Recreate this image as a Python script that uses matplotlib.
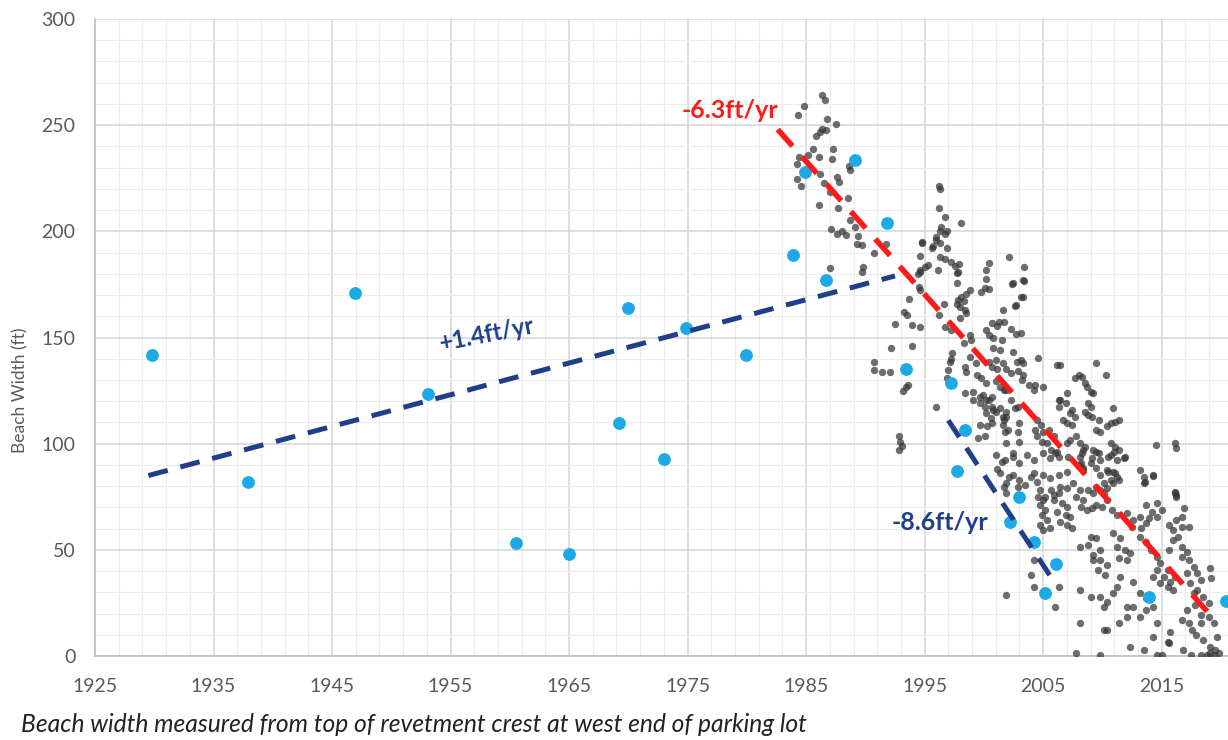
import matplotlib
matplotlib.use('Agg')
import matplotlib.pyplot as plt
from matplotlib.ticker import MultipleLocator

plt.rcParams['font.family'] = ['Lato', 'DejaVu Sans']

# aerial / survey measurements (blue)
blue_year = [1929.8, 1937.9, 1946.9, 1953.1, 1960.5, 1965.0, 1969.2, 1970.0,
             1973.0, 1974.9, 1979.9, 1983.9, 1984.9, 1986.7, 1989.1, 1991.8,
             1993.4, 1997.2, 1997.7, 1998.4, 2002.2, 2003.0, 2004.2, 2005.2,
             2006.1, 2013.9, 2020.4]
blue_width = [141.8, 82, 171, 123.4, 53.1, 48.0, 109.9, 163.8,
              92.6, 154.4, 141.8, 189, 228, 177, 233.6, 204,
              135, 128.6, 87, 106.5, 63, 75, 53.7, 29.7,
              43.3, 27.8, 26]

# profile measurements (grey dots): (year, width ft)
profile_pts = [
    (1986.3, 264), (1986.6, 262), (1984.8, 259), (1984.3, 255), (1986.8, 253), (1987.5, 250.6),
    (1986.3, 248), (1986.7, 247.8), (1986.2, 247), (1985.8, 245), (1987.3, 239), (1985.6, 238.8),
    (1985.2, 236), (1986.1, 235), (1984.4, 235), (1984.2, 231.6), (1987.2, 234), (1988.6, 230.8),
    (1988.7, 229), (1984.2, 224.5), (1984.6, 221.4), (1986.2, 227), (1986.5, 222.7), (1987.6, 225.8),
    (1987.8, 223.4), (1987.0, 218.7), (1988.5, 215.6), (1986.1, 212.4), (1987.7, 210.9), (1988.7, 205.4),
    (1989.1, 202.2), (1987.1, 201), (1987.6, 198.8), (1988.4, 198.2), (1988.0, 200), (1989.4, 197.8),
    (1989.3, 194), (1989.7, 193.6), (1991.7, 194), (1990.7, 190), (1987.0, 182.6), (1989.8, 183.4),
    (1989.7, 181), (1994.6, 181), (1995.0, 183.4), (1995.3, 184), (1996.2, 221.4), (1996.3, 219.8),
    (1996.2, 210.9), (1996.7, 206.6), (1998.1, 204), (1996.4, 202), (1996.3, 200), (1996.7, 198.8),
    (1996.0, 197.5), (1994.8, 194.4), (1995.7, 193.3), (1996.3, 194.7), (1994.6, 188.6), (1996.3, 188),
    (1996.7, 186.9), (1997.2, 185.7), (1997.9, 184.6), (1997.6, 183.5), (1997.8, 181), (2000.4, 185.3),
    (2000.2, 181.8), (2002.1, 188),
    (1996.9, 200), (1996.0, 196), (1994.8, 195), (1995.6, 192), (1996.9, 192), (1994.6, 181.8),
    (1994.4, 180), (1996.1, 182), (1997.7, 180.3), (1997.7, 175.6), (2000.2, 177.4), (2000.1, 173.2),
    (2002.4, 175.2), (2003.3, 177), (1994.5, 174), (1994.6, 172.4), (1998.8, 172.4), (1998.5, 170.5),
    (1998.1, 169.2), (1997.8, 167.7), (1997.7, 166), (1998.3, 167), (1999.8, 171.3), (2000.4, 172.7),
    (2003.1, 169), (1993.7, 168), (1993.3, 162), (1993.5, 160.6), (1996.6, 166), (1998.0, 164.5),
    (1998.4, 163), (1998.5, 161.4), (1998.0, 159), (2002.6, 164.9), (2001.6, 163), (2001.3, 157.5),
    (2001.7, 157.5), (1996.2, 160.6), (2000.7, 156.7), (2001.1, 155.4), (2000.2, 153.6), (2000.4, 151.2),
    (1992.5, 156.4), (1993.9, 155.9), (1994.6, 154.8), (2003.1, 152.3), (2002.7, 151.5), (2002.3, 153.9),
    (1997.2, 153.6), (1996.7, 155.1), (1998.3, 147.4), (1998.8, 151.2), (1998.9, 148.8), (2000.8, 149.6),
    (2001.5, 148.8), (2000.8, 145), (2001.4, 144), (2002.5, 143), (2003.1, 139.4), (2002.8, 138.6),
    (2003.3, 137.9), (2004.6, 140.2), (1992.2, 145), (1993.9, 146), (1997.3, 142.9), (1997.2, 139.8),
    (1997.1, 138.7), (1998.8, 140.7), (1999.3, 138.2), (1998.4, 136.3), (1998.5, 133.9), (2001.0, 139.4),
    (2000.4, 138.6), (2000.7, 136), (2001.1, 135), (1990.7, 138.7), (1990.7, 134.7), (1991.4, 133.6),
    (1992.1, 133.9), (2001.6, 137.9), (2001.9, 135), (2002.3, 133.2), (2002.9, 134.2), (2003.3, 132.4),
    (1997.0, 134.7), (1996.9, 130.8), (1999.4, 132.4), (1999.8, 130.8), (2000.2, 128.4), (1993.4, 126.9),
    (1993.2, 125), (1993.6, 127.7), (2001.0, 129.3), (2001.4, 126.9), (2001.9, 125.3), (2003.2, 130),
    (2003.8, 127.7), (2004.2, 125.3), (2005.0, 126.6), (2004.3, 127.7), (1998.4, 123.7), (1999.1, 124.5),
    (1999.7, 122.1), (2000.2, 120.6), (2000.7, 122.1), (1996.0, 117.1), (2000.1, 117.4), (2000.8, 115.9),
    (2001.4, 116.7), (2001.9, 115.1), (2002.6, 116.7), (2001.6, 112.7), (2006.2, 137), (2006.3, 120.6),
    (1992.8, 103.4), (1992.9, 101), (1993.1, 99), (1992.8, 97), (1999.1, 120.6), (1999.7, 119),
    (1999.9, 122.9), (2000.4, 120.6), (2000.7, 117.4), (2001.0, 115.1), (2000.2, 114.3), (2000.6, 112),
    (2001.7, 111.2), (2001.6, 108.8), (2002.0, 106.5), (1999.7, 108.8), (2000.3, 108.1), (2000.7, 109.6),
    (1999.5, 102.6), (2000.1, 103.4), (2001.0, 94.6), (2001.5, 91.5), (2001.1, 88.3), (2001.7, 79.7),
    (2001.9, 28.7),
    (2003.4, 183.4), (2002.5, 175.6), (2003.4, 176.8), (2003.3, 169), (2002.7, 165.3), (2006.4, 137),
    (2009.5, 137.9), (2010.3, 132.4), (2008.0, 132.4), (2008.3, 131.6), (2007.7, 130.8), (2008.5, 128.7),
    (2008.7, 126.9), (2009.0, 124.5), (2009.2, 123.7), (2007.0, 123.7), (2006.4, 120.6), (2006.9, 119),
    (2006.3, 117.4), (2007.3, 114.6), (2007.4, 115.9), (2007.7, 112.7), (2006.7, 111.2), (2007.0, 109.6),
    (2007.4, 108.8), (2008.8, 119), (2009.0, 117.4), (2008.5, 115.1), (2008.8, 113.5), (2009.1, 112.7),
    (2009.7, 111.2), (2009.5, 106.5), (2009.8, 105.7), (2010.9, 116.7), (2010.7, 109.6), (2011.1, 110.4),
    (2011.4, 111.2), (2010.4, 108.1), (2004.5, 111.2), (2004.8, 108.8), (2004.3, 106.5), (2005.0, 105.7),
    (2005.5, 106.5), (2004.5, 103.4), (2004.9, 101), (2005.3, 100.2), (2005.9, 103.4), (2005.7, 97),
    (2006.0, 95.5), (2006.3, 93.9), (2005.6, 93.1), (2007.0, 100.2), (2007.3, 101.7), (2007.8, 103.4),
    (2008.1, 100.2), (2008.5, 98.6), (2008.4, 97), (2008.1, 93.9), (2008.2, 90.7), (2008.4, 88.4),
    (2009.2, 97), (2009.1, 93.1), (2009.8, 92.3), (2009.0, 90.7), (2009.7, 95.5), (2010.7, 100.2),
    (2011.1, 98.6), (2011.4, 97), (2011.0, 96.2), (2010.5, 93.9), (2011.8, 93.1), (2014.5, 99.4),
    (2016.1, 100.2), (2016.2, 97.8), (2010.4, 87.6), (2010.9, 86.8), (2011.2, 84.5), (2010.7, 82.9),
    (2010.1, 81.4), (2010.9, 81.4), (2009.5, 79.7), (2009.8, 78.2), (2010.4, 79), (2013.2, 87.6),
    (2013.5, 84.5), (2013.6, 82.1), (2014.3, 84.8), (2016.1, 77.4), (2016.2, 75.8), (2006.4, 79.7),
    (2007.0, 79), (2007.5, 81.4), (2008.1, 78.2), (2008.8, 78.2), (2009.2, 76.6), (2004.7, 78.2),
    (2005.2, 75), (2005.9, 75.8), (2003.1, 75), (2001.9, 76.6), (2001.7, 125.3), (2002.3, 120.6),
    (2002.9, 117.4), (2001.9, 112.7), (2003.0, 109.6), (2001.8, 105.7), (2002.9, 105.7), (2001.9, 100.2),
    (2003.0, 101), (2002.5, 95.5), (2001.8, 92.3), (2003.0, 90.7), (2002.1, 84.5), (2003.0, 82.9),
    (2002.5, 93.9), (2003.6, 94.6), (2004.2, 92.3), (2005.0, 95.5), (2006.2, 96.2), (2007.1, 93.9),
    (2008.3, 95.5), (2009.5, 96.2), (2010.7, 94.6), (2011.2, 92.3), (2011.9, 93.9), (2008.1, 90),
    (2008.4, 87.6), (2009.5, 88.4), (2009.8, 85.3), (2010.5, 86.8), (2011.1, 86), (2011.4, 82.9),
    (2001.4, 86), (2002.5, 85.3), (2004.0, 84.5), (2004.2, 86), (2005.0, 85.3), (2001.9, 81.4),
    (2002.9, 79.7), (2003.5, 80.5), (2004.5, 82.1), (2005.6, 83.7), (2006.3, 85.3), (2007.0, 86.8),
    (2004.6, 75), (2005.0, 73.5), (2004.7, 71.1), (2005.2, 68.8), (2004.9, 66.4), (2005.3, 64),
    (2004.7, 61.7), (2005.0, 59.3), (2005.6, 60.1), (2005.7, 78.2), (2006.3, 76.6), (2005.9, 73.5),
    (2006.6, 71.9), (2007.0, 70.3), (2006.2, 68), (2006.9, 66.4), (2007.3, 65.6), (2006.4, 63.3),
    (2007.0, 61.7), (2007.4, 60.1), (2007.8, 75), (2008.4, 73.5), (2008.2, 70.3), (2008.7, 68.8),
    (2009.1, 69.6), (2009.5, 71.1), (2010.1, 76.6), (2010.4, 73.5), (2010.0, 70.3), (2010.8, 68.8),
    (2011.2, 66.4), (2012.1, 67.2), (2012.6, 64), (2013.2, 65.6), (2012.5, 60.9), (2013.3, 60.1),
    (2013.7, 62.5), (2014.3, 85.3), (2013.5, 81.4), (2013.7, 71.1), (2014.6, 71.9), (2015.0, 68.8),
    (2014.2, 68), (2014.6, 65.6), (2013.9, 64.8), (2016.1, 76.6), (2016.2, 75), (2016.9, 69.6),
    (2016.7, 65.6), (2016.2, 64), (2015.6, 61.7), (2016.0, 59.3), (2016.7, 60.9), (2017.3, 60.9),
    (2009.0, 56.2), (2009.5, 55.4), (2008.8, 52.3), (2008.1, 51.5), (2009.8, 49.9), (2009.2, 47.6),
    (2009.8, 45.2), (2010.4, 42.9), (2009.2, 45.2), (2009.6, 40.5), (2010.2, 38.2), (2010.9, 57.8),
    (2011.5, 55.4), (2011.2, 51.5), (2011.9, 49.9), (2012.3, 48.4), (2012.1, 45.2), (2011.4, 46),
    (2013.2, 56.2), (2013.7, 53.8), (2014.1, 49.9), (2014.6, 46.8), (2014.9, 43.6), (2015.5, 40.5),
    (2014.6, 40.5), (2015.2, 37.3), (2015.7, 35), (2016.1, 37.3), (2014.9, 34.2), (2015.5, 32.6),
    (2016.0, 31.1), (2014.3, 37.3), (2015.6, 49.9), (2016.0, 54.6), (2016.4, 56.2), (2016.7, 51.5),
    (2017.1, 49.1), (2016.7, 46.8), (2017.3, 45.2), (2017.7, 42.1), (2018.0, 39), (2017.1, 39),
    (2018.3, 35.8), (2017.4, 34.2), (2018.0, 31.1), (2018.5, 27.9), (2019.1, 41.3), (2019.2, 36.6),
    (2010.4, 12.2), (2011.4, 15.4), (2012.1, 18.5), (2012.6, 23.2), (2013.2, 18.5), (2013.7, 21.7),
    (2014.3, 23.2), (2014.6, 15.4), (2015.7, 11.5), (2013.5, 2.8), (2012.3, 4.4), (2015.6, 6),
    (2016.8, 2.8), (2014.6, 0.5), (2015.0, 0.5), (2016.7, 17), (2017.3, 15.4), (2017.6, 12.2),
    (2017.9, 9.9), (2018.3, 15.4), (2019.0, 18.5), (2019.4, 15.4), (2019.7, 9.1), (2018.5, 7.5),
    (2019.1, 4.4), (2019.5, 2.8), (2019.8, 1.3), (2017.5, 0.5), (2018.3, 0.5), (2018.8, 0.5),
    (2019.4, 0.5), (2019.1, 1.3), (2017.1, 21.7), (2017.8, 24.1), (2019.0, 24.8), (2018.3, 19.3),
    (2017.7, 29.5), (2004.2, 45.2), (2004.0, 38.2), (2004.2, 32.6), (2006.0, 23.2), (2006.3, 32.6),
    (2010.4, 25.6), (2014.3, 9.1), (2015.5, 6.8), (2008.1, 31.1), (2009.0, 27.9), (2009.8, 27.9),
    (2010.1, 23.2), (2010.9, 29.5), (2011.2, 32.6), (2011.5, 37.3), (2012.6, 35), (2013.2, 29.5),
    (2013.7, 27.2), (2012.1, 23.2), (2008.1, 15.4), (2007.8, 1.3), (2010.1, 12.2), (2009.8, 0.3),
]
gray_year = [p[0] for p in profile_pts]
gray_width = [p[1] for p in profile_pts]

# trend lines (endpoints)
trend_up_x, trend_up_y = [1929.5, 1992.5], [85, 179]
trend_red_x, trend_red_y = [1982.6, 2019.0], [248, 20]
trend_dn_x, trend_dn_y = [1997.0, 2005.8], [111, 36]

fig = plt.figure(figsize=(12.28, 7.4), dpi=100)
ax = fig.add_axes([0.0774, 0.1135, 0.9226, 0.8608])

ax.scatter(gray_year, gray_width, s=28, color='#353535', alpha=0.72,
           linewidths=0, zorder=3)
ax.scatter(blue_year, blue_width, s=85, color='#1ca9e6', linewidths=0, zorder=4)

ax.plot(trend_up_x, trend_up_y, color='#1f3f8a', lw=3.6,
        linestyle=(0, (4, 2.6)), zorder=5)
ax.plot(trend_red_x, trend_red_y, color='#ff1a1a', lw=4,
        linestyle=(0, (4, 2.6)), zorder=5)
ax.plot(trend_dn_x, trend_dn_y, color='#1f3f8a', lw=3.6,
        linestyle=(0, (4, 2.6)), zorder=5)

ax.text(1958.1, 151.2, '+1.4ft/yr', color='#1f3f8a', fontsize=17,
        fontweight='bold', rotation=11, ha='center', va='center', zorder=6)
ax.text(1978.6, 256.7, '-6.3ft/yr', color='#ff1a1a', fontsize=18,
        fontweight='bold', ha='center', va='center', zorder=6)
ax.text(1996.3, 63.1, '-8.6ft/yr', color='#1f3f8a', fontsize=18,
        fontweight='bold', ha='center', va='center', zorder=6)

ax.set_xlim(1925, 2020.6)
ax.set_ylim(0, 300)
ax.xaxis.set_major_locator(MultipleLocator(10, offset=5))
ax.xaxis.set_minor_locator(MultipleLocator(2, offset=1))
ax.yaxis.set_major_locator(MultipleLocator(50))
ax.yaxis.set_minor_locator(MultipleLocator(10))
ax.grid(which='major', color='#d4d4d4', lw=1.1)
ax.grid(which='minor', color='#ececec', lw=0.8)
ax.set_axisbelow(True)
ax.tick_params(which='both', length=0, labelsize=14, labelcolor='#595959')
ax.tick_params(axis='y', pad=14)
ax.tick_params(axis='x', pad=16)
for s in ['top', 'right']:
    ax.spines[s].set_visible(False)
for s in ['left', 'bottom']:
    ax.spines[s].set_color('#bfbfbf')
    ax.spines[s].set_linewidth(1.2)

fig.text(20 / 1228, 1 - 390 / 740, 'Beach Width (ft)', rotation=90,
         ha='center', va='center', fontsize=12.5, color='#595959')
fig.text(21 / 1228, (740 - 732) / 740,
         'Beach width measured from top of revetment crest at west end of parking lot',
         ha='left', va='baseline', fontsize=17.7, style='italic', color='#222222')

fig.savefig('out.png', dpi=100)
plt.close('all')
